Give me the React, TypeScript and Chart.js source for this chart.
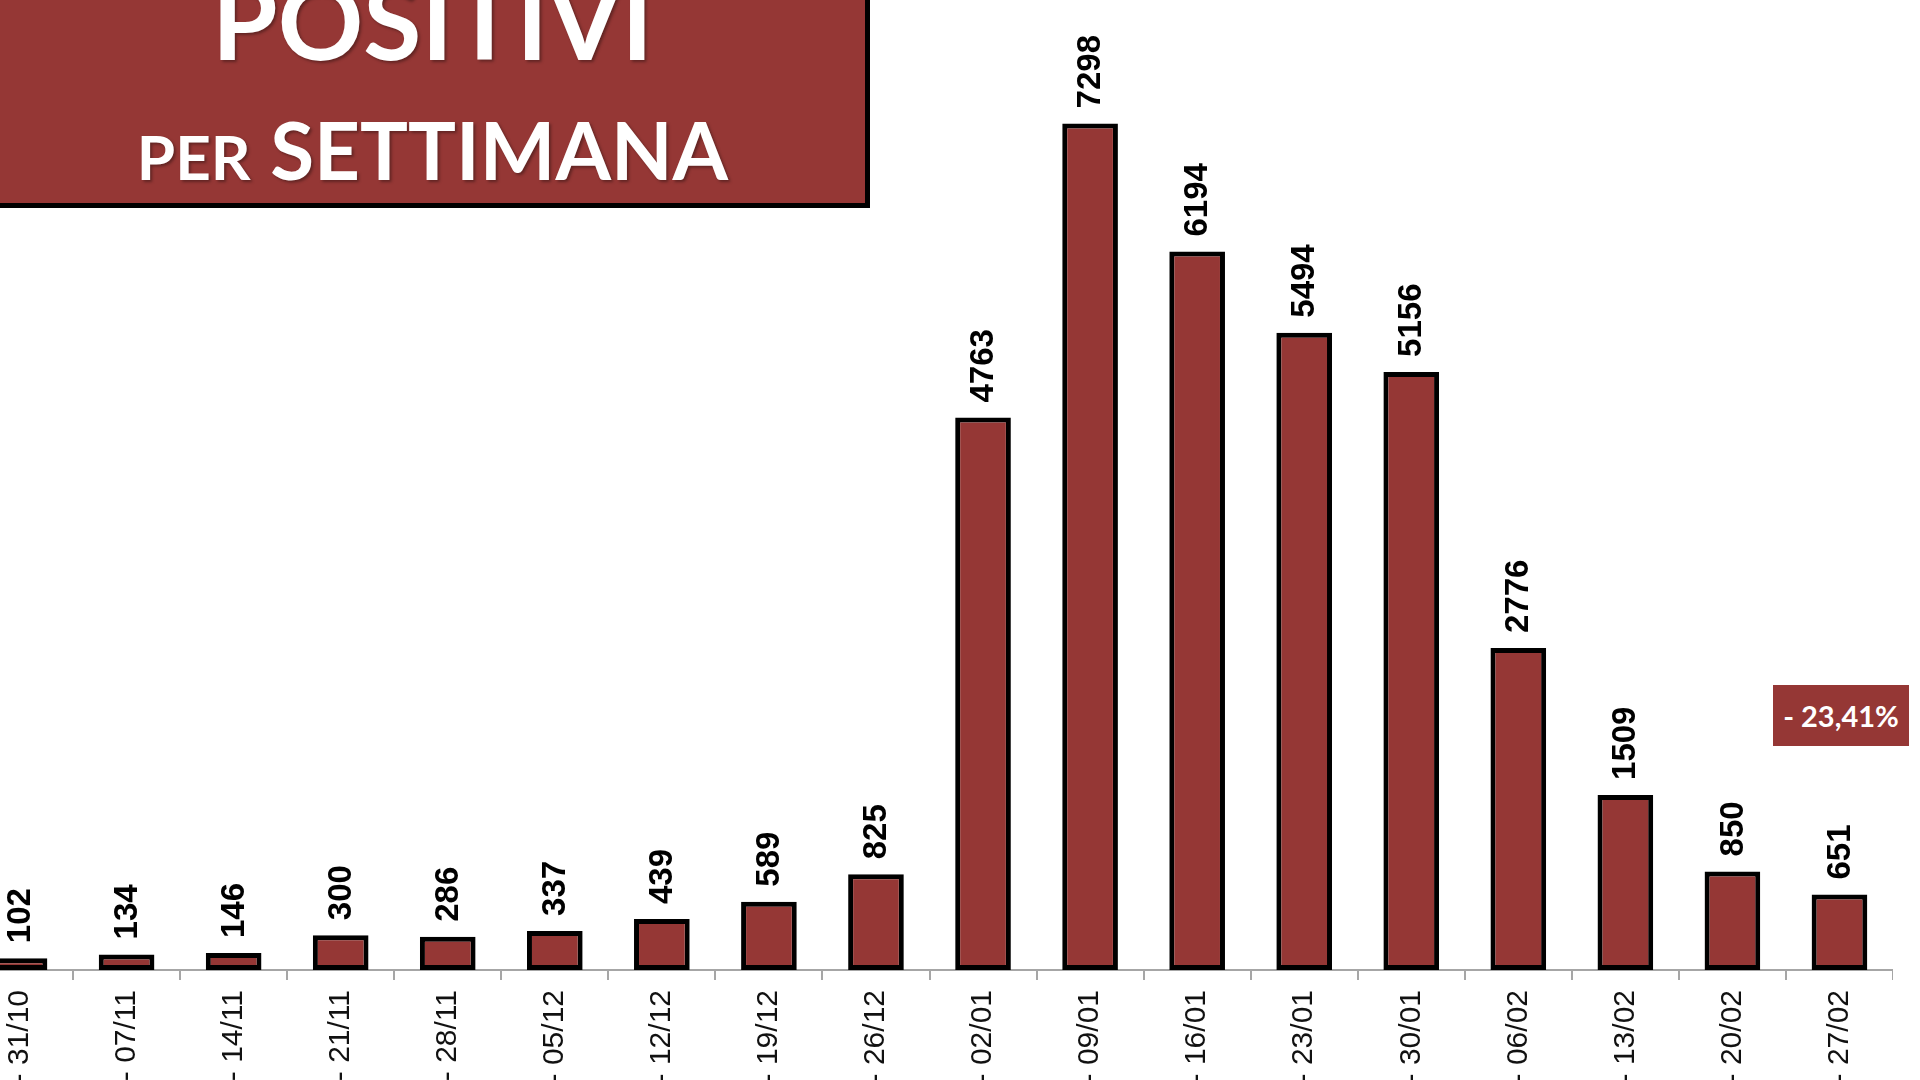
import React, { useEffect, useRef } from "react";
import { Chart, registerables } from "chart.js";

Chart.register(...registerables);

const weekStarts = ["25/10", "01/11", "08/11", "15/11", "22/11", "29/11", "06/12", "13/12", "20/12", "27/12", "03/01", "10/01", "17/01", "24/01", "31/01", "07/02", "14/02", "21/02"];
const weekEnds = ["31/10", "07/11", "14/11", "21/11", "28/11", "05/12", "12/12", "19/12", "26/12", "02/01", "09/01", "16/01", "23/01", "30/01", "06/02", "13/02", "20/02", "27/02"];
const positives = [102, 134, 146, 300, 286, 337, 439, 589, 825, 4763, 7298, 6194, 5494, 5156, 2776, 1509, 850, 651];
const categories = weekStarts.map((s, i) => `${s} - ${weekEnds[i]}`);

const titleLine1 = "POSITIVI";
const titleLine2Small = "PER";
const titleLine2Big = "SETTIMANA";
const changeLabel = "- 23,41%";

const RED = "#953735";

const valueLabels = {
  id: "valueLabels",
  afterDatasetsDraw(chart: any) {
    const ctx = chart.ctx;
    const meta = chart.getDatasetMeta(0);
    const data = chart.data.datasets[0].data;
    ctx.save();
    ctx.font = "bold 33px 'Liberation Sans', Arial, sans-serif";
    ctx.fillStyle = "#000";
    ctx.textAlign = "left";
    ctx.textBaseline = "middle";
    meta.data.forEach((bar: any, i: number) => {
      ctx.save();
      ctx.translate(bar.x + 1, bar.y - 15);
      ctx.rotate(-Math.PI / 2);
      ctx.fillText(String(data[i]), 0, 0);
      ctx.restore();
    });
    ctx.restore();
  },
};

export default function App() {
  const canvasRef = useRef<HTMLCanvasElement | null>(null);

  useEffect(() => {
    if (!canvasRef.current) return;
    const chart = new Chart(canvasRef.current, {
      type: "bar",
      data: {
        labels: categories,
        datasets: [
          {
            data: positives,
            backgroundColor: RED,
            borderColor: "#000",
            borderWidth: 5,
            borderSkipped: false,
            barPercentage: 0.52,
            categoryPercentage: 1,
          },
        ],
      },
      options: {
        animation: false,
        responsive: true,
        maintainAspectRatio: false,
        devicePixelRatio: 1,
        layout: { padding: { top: 42, left: 0, right: 0, bottom: 0 } },
        plugins: {
          legend: { display: false },
          tooltip: { enabled: false },
          title: { display: false },
        },
        scales: {
          x: {
            offset: true,
            grid: {
              display: true,
              offset: true,
              drawOnChartArea: false,
              drawTicks: true,
              tickLength: 10,
              color: "#a6a6a6",
              lineWidth: 2,
            },
            border: { display: true, color: "#a6a6a6", width: 2 },
            ticks: {
              autoSkip: false,
              minRotation: 90,
              maxRotation: 90,
              padding: 10,
              color: "#111",
              font: { family: "'Liberation Sans', Arial, sans-serif", size: 30 },
            },
            afterFit: (scale: any) => {
              scale.height = 230;
              scale.paddingLeft = 0;
              scale.paddingRight = 0;
            },
          },
          y: {
            display: false,
            min: 0,
            max: 8000,
          },
        },
      },
      plugins: [valueLabels],
    });
    return () => chart.destroy();
  }, []);

  return (
    <div style={{ position: "fixed", inset: 0, overflow: "hidden", background: "#fff" }}>
      <div style={{ position: "absolute", left: -34, top: 0, width: 1927, height: 1200 }}>
        <canvas ref={canvasRef} />
      </div>
      <div
        style={{
          position: "absolute",
          left: 0,
          top: 0,
          width: 865,
          height: 203,
          background: RED,
          borderRight: "5px solid #000",
          borderBottom: "5px solid #000",
          color: "#fff",
          fontFamily: "Lato, 'Open Sans', sans-serif",
          fontWeight: 700,
          textShadow: "2px 2px 3px rgba(0,0,0,0.35)",
          overflow: "hidden",
        }}
      >
        <div
          style={{
            position: "absolute",
            left: 0,
            width: 865,
            top: -34,
            textAlign: "center",
            fontSize: 106,
            lineHeight: "106px",
            letterSpacing: 0,
          }}
        >
          {titleLine1}
        </div>
        <div
          style={{
            position: "absolute",
            left: 0,
            width: 865,
            top: 105,
            textAlign: "center",
            lineHeight: "88px",
            whiteSpace: "nowrap",
          }}
        >
          <span style={{ fontSize: 62 }}>{titleLine2Small}</span>
          <span style={{ fontSize: 80 }}> {titleLine2Big}</span>
        </div>
      </div>
      <div
        style={{
          position: "absolute",
          left: 1773,
          top: 685,
          width: 136,
          height: 61,
          background: RED,
          color: "#fff",
          fontFamily: "Lato, 'Open Sans', sans-serif",
          fontWeight: 700,
          fontSize: 29,
          lineHeight: "61px",
          textAlign: "center",
          whiteSpace: "nowrap",
        }}
      >
        {changeLabel}
      </div>
    </div>
  );
}
